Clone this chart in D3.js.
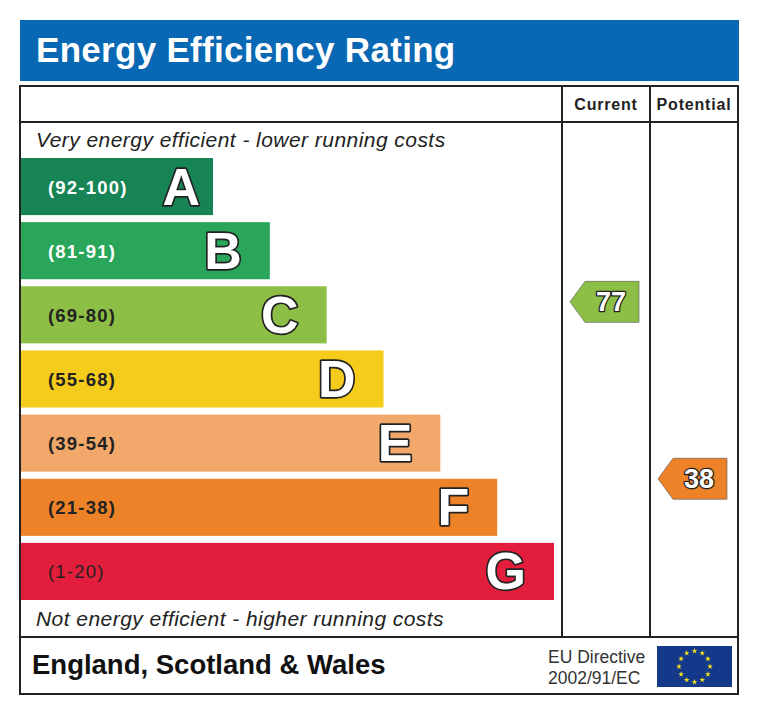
<!DOCTYPE html>
<html>
<head>
<meta charset="utf-8">
<script src="https://cdn.jsdelivr.net/npm/d3@7"></script>
<style>
  body { margin: 0; background: #fff; }
  svg text { font-family: "Liberation Sans", Arial, sans-serif; }
</style>
</head>
<body>
<div id="chart"></div>
<script>
// rating bands
const bands = ['A', 'B', 'C', 'D', 'E', 'F', 'G'];
const rangeMin = [92, 81, 69, 55, 39, 21, 1];
const rangeMax = [100, 91, 80, 68, 54, 38, 20];
const rangeLabels = ['(92-100)', '(81-91)', '(69-80)', '(55-68)', '(39-54)', '(21-38)', '(1-20)'];
const bandColors = ['#168455', '#2aa65a', '#8dbe45', '#f6cc1c', '#f2a86b', '#ee8228', '#e31e3c'];

const currentRating = 77;
const potentialRating = 38;

const width = 760;
const height = 715;
const left = 20;
const right = 738;
const colCurrent = 562;
const colPotential = 650;
const frameTop = 86;
const headRow = 122;
const footTop = 637;
const frameBottom = 694;

const svg = d3.select('#chart').append('svg').attr('width', width).attr('height', height);

// title bar
svg.append('rect').attr('x', 20).attr('y', 20).attr('width', 719).attr('height', 61).attr('fill', '#0968b3');
svg.append('text').attr('x', 36).attr('y', 62).attr('fill', '#fff').attr('font-size', 35).attr('letter-spacing', 0.3).attr('font-weight', 'bold').text('Energy Efficiency Rating');

const yBand = d3.scaleBand().domain(bands).range([158, 600]).paddingInner(0.11);
const xEnd = d3.scaleLinear().domain([0, bands.length - 1]).range([213, 554]);
const color = d3.scaleOrdinal(bands, bandColors);

const rows = bands.map((b, i) => ({band: b, min: rangeMin[i], max: rangeMax[i], label: rangeLabels[i], i: i}));

// bars
const bar = svg.append('g').selectAll('g').data(rows).enter().append('g');
bar.append('rect')
  .attr('x', left + 1)
  .attr('y', d => yBand(d.band))
  .attr('width', d => xEnd(d.i) - left - 1)
  .attr('height', yBand.bandwidth())
  .attr('fill', d => color(d.band));
bar.append('text')
  .attr('x', 48)
  .attr('y', d => yBand(d.band) + yBand.bandwidth() / 2 + 7)
  .attr('font-size', 18.5)
  .attr('letter-spacing', 1.2)
  .attr('font-weight', d => d.band === 'G' ? 'normal' : 'bold')
  .attr('fill', d => d.i < 2 ? '#fff' : '#222')
  .text(d => d.label);
bar.append('text')
  .attr('x', d => xEnd(d.i) - (d.i === 0 ? 13 : 28))
  .attr('y', d => yBand(d.band) + yBand.bandwidth() / 2 + 18)
  .attr('text-anchor', 'end')
  .attr('font-size', 52)
  .attr('font-weight', 'bold')
  .attr('fill', '#fff')
  .attr('stroke', '#222')
  .attr('stroke-width', 3.4)
  .attr('stroke-linejoin', 'round')
  .attr('paint-order', 'stroke')
  .text(d => d.band);

// captions
svg.append('text').attr('x', 36).attr('y', 147).attr('font-size', 21).attr('letter-spacing', 0.45).attr('font-style', 'italic').attr('fill', '#222').text('Very energy efficient - lower running costs');
svg.append('text').attr('x', 36).attr('y', 626).attr('font-size', 21).attr('letter-spacing', 0.45).attr('font-style', 'italic').attr('fill', '#222').text('Not energy efficient - higher running costs');

// frame and grid lines
const lines = svg.append('g').attr('stroke', '#222').attr('stroke-width', 2).attr('fill', 'none');
lines.append('rect').attr('x', left).attr('y', frameTop).attr('width', right - left).attr('height', frameBottom - frameTop);
lines.append('line').attr('x1', left).attr('x2', right).attr('y1', headRow).attr('y2', headRow);
lines.append('line').attr('x1', left).attr('x2', right).attr('y1', footTop).attr('y2', footTop);
lines.append('line').attr('x1', colCurrent).attr('x2', colCurrent).attr('y1', frameTop).attr('y2', footTop);
lines.append('line').attr('x1', colPotential).attr('x2', colPotential).attr('y1', frameTop).attr('y2', footTop);

svg.append('text').attr('x', (colCurrent + colPotential) / 2).attr('y', 110).attr('text-anchor', 'middle').attr('font-size', 16).attr('letter-spacing', 0.8).attr('font-weight', 'bold').attr('fill', '#222').text('Current');
svg.append('text').attr('x', (colPotential + right) / 2).attr('y', 110).attr('text-anchor', 'middle').attr('font-size', 16).attr('letter-spacing', 0.8).attr('font-weight', 'bold').attr('fill', '#222').text('Potential');

// rating arrows
function bandOf(v) { return rows.find(r => v >= r.min && v <= r.max); }
function ratingY(v) {
  const r = bandOf(v);
  const s = d3.scaleLinear().domain([r.max, r.min]).range([yBand(r.band), yBand(r.band) + yBand.bandwidth()]);
  return s(v);
}
function arrow(v, x0, x1) {
  const r = bandOf(v);
  const y = ratingY(v);
  const tip = x0 + 8, shoulder = tip + 15, end = x1 - 11, h = 20.5;
  const g = svg.append('g');
  g.append('path')
    .attr('d', `M${tip},${y} L${shoulder},${y - h} L${end},${y - h} L${end},${y + h} L${shoulder},${y + h} Z`)
    .attr('fill', color(r.band))
    .attr('stroke', '#555')
    .attr('stroke-width', 0.6);
  g.append('text')
    .attr('x', (shoulder + end) / 2 - 1)
    .attr('y', y + 9.5)
    .attr('text-anchor', 'middle')
    .attr('font-size', 27)
    .attr('font-weight', 'bold')
    .attr('fill', '#fff')
    .attr('stroke', '#222')
    .attr('stroke-width', 2.6)
    .attr('stroke-linejoin', 'round')
    .attr('paint-order', 'stroke')
    .text(v);
}
arrow(currentRating, colCurrent, colPotential);
arrow(potentialRating, colPotential, right);

// footer
svg.append('text').attr('x', 32).attr('y', 674).attr('font-size', 27.5).attr('font-weight', 'bold').attr('fill', '#111').text('England, Scotland & Wales');
svg.append('text').attr('x', 548).attr('y', 663).attr('font-size', 17.5).attr('fill', '#333').text('EU Directive');
svg.append('text').attr('x', 548).attr('y', 684).attr('font-size', 17.5).attr('fill', '#333').text('2002/91/EC');

// EU flag
const flag = svg.append('g');
flag.append('rect').attr('x', 657).attr('y', 646).attr('width', 75).attr('height', 41).attr('fill', '#15398a');
const cx = 694.5, cy = 666.5, rad = 15.5;
flag.selectAll('path').data(d3.range(12)).enter().append('path')
  .attr('d', d3.symbol(d3.symbolStar, 10))
  .attr('transform', d => `translate(${cx + rad * Math.sin(d * Math.PI / 6)},${cy - rad * Math.cos(d * Math.PI / 6)})`)
  .attr('fill', '#f5e21a');
</script>
</body>
</html>
